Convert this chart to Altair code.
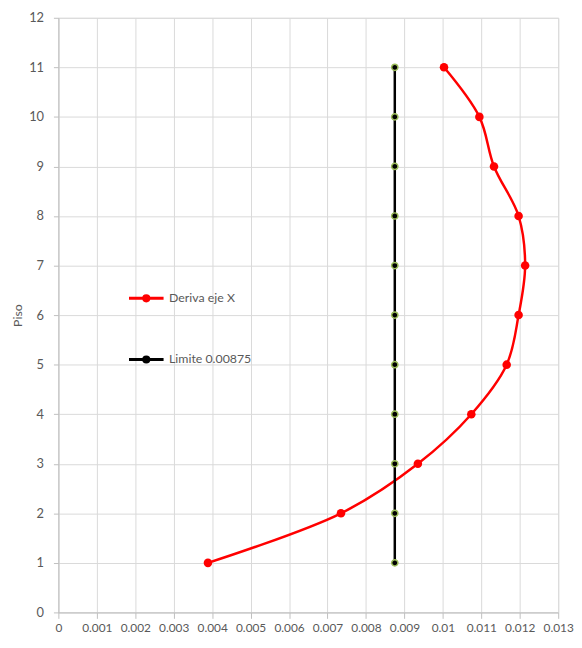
import altair as alt
import pandas as pd

pisos = [1, 2, 3, 4, 5, 6, 7, 8, 9, 10, 11]
deriva_x = [0.00389, 0.00735, 0.00935, 0.01074, 0.01166, 0.01197, 0.01214, 0.01197, 0.01133, 0.01095, 0.01003]
limite = [0.00875] * 11
series = ["Deriva eje X", "Limite 0.00875"]
x_ticks = [0, 0.001, 0.002, 0.003, 0.004, 0.005, 0.006, 0.007, 0.008, 0.009, 0.01, 0.011, 0.012, 0.013]
y_ticks = list(range(0, 13))

rows = []
for p, v in zip(pisos, deriva_x):
    rows.append({"serie": series[0], "x": v, "piso": p})
for p, v in zip(pisos, limite):
    rows.append({"serie": series[1], "x": v, "piso": p})
df = pd.DataFrame(rows)

FONT = "Lato"
GRAY = "#595959"

x_enc = alt.X("x:Q", scale=alt.Scale(domain=[0, 0.013], nice=False, zero=True),
              axis=alt.Axis(values=x_ticks, format="~g", title=None, grid=True,
                            gridColor="#d9d9d9", domainColor="#bfbfbf", tickColor="#bfbfbf",
                            tickSize=6, labelPadding=4, labelColor=GRAY, labelFontSize=12,
                            labelFont=FONT, labelOverlap=False, labelFlush=False))
y_enc = alt.Y("piso:Q", scale=alt.Scale(domain=[0, 12], nice=False),
              axis=alt.Axis(values=y_ticks, title="Piso", grid=True, gridColor="#d9d9d9",
                            domainColor="#bfbfbf", tickColor="#bfbfbf", tickSize=5,
                            labelPadding=10, labelColor=GRAY, labelFontSize=13, labelFont=FONT,
                            titleColor=GRAY, titleFont=FONT, titleFontSize=12.5,
                            titleFontWeight="normal", titlePadding=4))

legend_path = "M-1,0L1,0M0.15,0A0.15,0.15,0,1,1,-0.15,0A0.15,0.15,0,1,1,0.15,0Z"

base = alt.Chart(df).encode(x=x_enc, y=y_enc)

lines = base.mark_line(interpolate="catmull-rom", strokeWidth=2.5).encode(
    order="piso:Q",
    color=alt.Color("serie:N",
                    scale=alt.Scale(domain=series, range=["#ff0000", "#000000"]),
                    legend=alt.Legend(title=None, orient="none", legendX=70, legendY=265,
                                      direction="vertical", rowPadding=34,
                                      symbolType=legend_path, symbolSize=1225,
                                      symbolStrokeWidth=3, labelFont=FONT,
                                      labelFontSize=12.5, labelColor=GRAY, labelOffset=4)),
)

red_pts = base.transform_filter(alt.datum.serie == series[0]).mark_point(
    filled=True, color="#ff0000", size=75, opacity=1)

lim_pts = base.transform_filter(alt.datum.serie == series[1]).mark_point(
    filled=True, fill="#000000", stroke="#9bbb59", strokeWidth=1.5, size=40, opacity=1)

chart = alt.layer(lines, lim_pts, red_pts).properties(
    width=506, height=602,
    padding={"left": 51, "top": 6, "right": 16, "bottom": 22},
    autosize=alt.AutoSizeParams(type="none"),
).configure_view(stroke=None).configure(background="white")

chart.save("out.html", embed_options={"renderer": "svg", "actions": False})
